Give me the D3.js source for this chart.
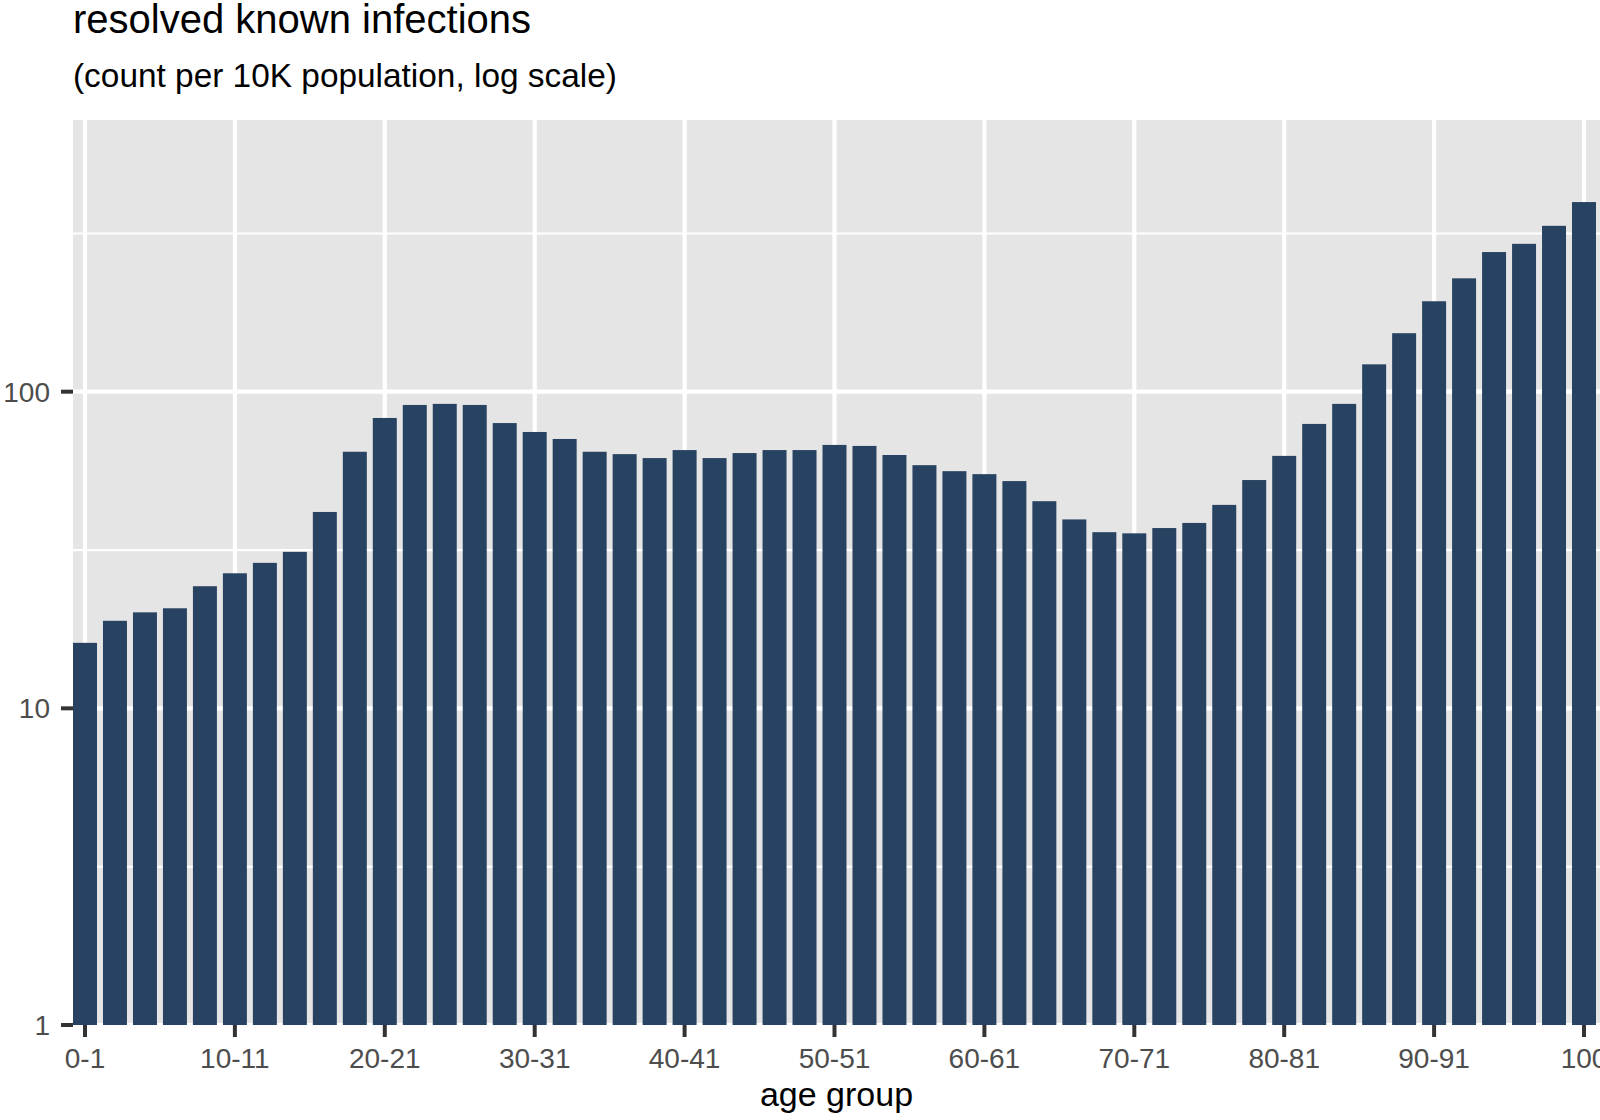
<!DOCTYPE html>
<html>
<head>
<meta charset="utf-8">
<script src="https://cdn.jsdelivr.net/npm/d3@7"></script>
<style>
    body { margin: 0; background: #fff; }
    svg { display: block; font-family: "Liberation Sans", Arial, Helvetica, sans-serif; }
</style>
</head>
<body>
<div id="chart"></div>
<script>

let age_groups = ['0-1','2-3','4-5','6-7','8-9','10-11','12-13','14-15','16-17','18-19',
    '20-21','22-23','24-25','26-27','28-29','30-31','32-33','34-35','36-37','38-39',
    '40-41','42-43','44-45','46-47','48-49','50-51','52-53','54-55','56-57','58-59',
    '60-61','62-63','64-65','66-67','68-69','70-71','72-73','74-75','76-77','78-79',
    '80-81','82-83','84-85','86-87','88-89','90-91','92-93','94-95','96-97','98-99','100']

let infections = [16.1, 18.9, 20.1, 20.7, 24.3, 26.7, 28.8, 31.2, 41.7, 64.6,
    82.6, 90.8, 91.5, 90.8, 79.6, 74.6, 70.9, 64.6, 63.5, 61.7,
    65.4, 61.7, 64.0, 65.4, 65.4, 67.9, 67.4, 63.1, 58.6, 56.1,
    54.9, 52.2, 45.1, 39.5, 36.0, 35.7, 37.1, 38.5, 43.9, 52.6,
    62.7, 79.1, 91.5, 122, 153, 193, 228, 276, 293, 334, 397]

let x_ticks = ['0-1','10-11','20-21','30-31','40-41','50-51','60-61','70-71','80-81','90-91','100']

let y_ticks = [1, 10, 100]

let y_minor = [3.16, 31.6, 316]

let width = 1600,
    height = 1120,
    panel_left = 73,
    panel_right = 1600,
    panel_top = 120,
    panel_bottom = 1025

let svg = d3.select('#chart').append('svg')
    .attr('width', width)
    .attr('height', height)

let x = d3.scaleBand()
    .domain(age_groups)
    .range([panel_left, 1596])
    .paddingInner(0.2)
    .paddingOuter(0)

let y = d3.scaleLog()
    .domain([1, 721])
    .range([panel_bottom, panel_top])

svg.append('rect')
    .attr('x', panel_left)
    .attr('y', panel_top)
    .attr('width', panel_right - panel_left)
    .attr('height', panel_bottom - panel_top)
    .attr('fill', '#e5e5e5')

svg.selectAll('.minor')
    .data(y_minor)
    .enter()
    .append('line')
    .attr('x1', panel_left)
    .attr('x2', panel_right)
    .attr('y1', d => y(d))
    .attr('y2', d => y(d))
    .attr('stroke', '#fff')
    .attr('stroke-width', 2.1)

svg.selectAll('.major_y')
    .data(y_ticks)
    .enter()
    .append('line')
    .attr('x1', panel_left)
    .attr('x2', panel_right)
    .attr('y1', d => y(d))
    .attr('y2', d => y(d))
    .attr('stroke', '#fff')
    .attr('stroke-width', 4.2)

svg.selectAll('.major_x')
    .data(x_ticks)
    .enter()
    .append('line')
    .attr('x1', d => x(d) + x.bandwidth() / 2)
    .attr('x2', d => x(d) + x.bandwidth() / 2)
    .attr('y1', panel_top)
    .attr('y2', panel_bottom)
    .attr('stroke', '#fff')
    .attr('stroke-width', 4.2)

svg.selectAll('.bar')
    .data(infections)
    .enter()
    .append('rect')
    .attr('x', (d, i) => x(age_groups[i]))
    .attr('width', x.bandwidth())
    .attr('y', d => y(d))
    .attr('height', d => y(1) - y(d))
    .attr('fill', '#284362')

// axes, drawn by hand so they look like ggplot
svg.selectAll('.ytick')
    .data(y_ticks)
    .enter()
    .append('line')
    .attr('x1', panel_left - 12)
    .attr('x2', panel_left)
    .attr('y1', d => y(d))
    .attr('y2', d => y(d))
    .attr('stroke', '#333')
    .attr('stroke-width', 4)

svg.selectAll('.ylabel')
    .data(y_ticks)
    .enter()
    .append('text')
    .attr('x', 50)
    .attr('y', d => y(d) + 10)
    .attr('text-anchor', 'end')
    .attr('font-size', 28)
    .attr('fill', '#4d4d4d')
    .text(d => d)

svg.selectAll('.xtick')
    .data(x_ticks)
    .enter()
    .append('line')
    .attr('x1', d => x(d) + x.bandwidth() / 2)
    .attr('x2', d => x(d) + x.bandwidth() / 2)
    .attr('y1', panel_bottom)
    .attr('y2', panel_bottom + 12)
    .attr('stroke', '#333')
    .attr('stroke-width', 4)

svg.selectAll('.xlabel')
    .data(x_ticks)
    .enter()
    .append('text')
    .attr('x', d => x(d) + x.bandwidth() / 2)
    .attr('y', 1068)
    .attr('text-anchor', 'middle')
    .attr('font-size', 28)
    .attr('fill', '#4d4d4d')
    .text(d => d)

svg.append('text')
    .attr('x', (panel_left + panel_right) / 2)
    .attr('y', 1106)
    .attr('text-anchor', 'middle')
    .attr('font-size', 34)
    .attr('fill', '#000')
    .text('age group')

svg.append('text')
    .attr('x', 73)
    .attr('y', 33)
    .attr('font-size', 40)
    .attr('fill', '#000')
    .text('resolved known infections')

svg.append('text')
    .attr('x', 73)
    .attr('y', 87)
    .attr('font-size', 33.4)
    .attr('fill', '#000')
    .text('(count per 10K population, log scale)')

</script>
</body>
</html>
